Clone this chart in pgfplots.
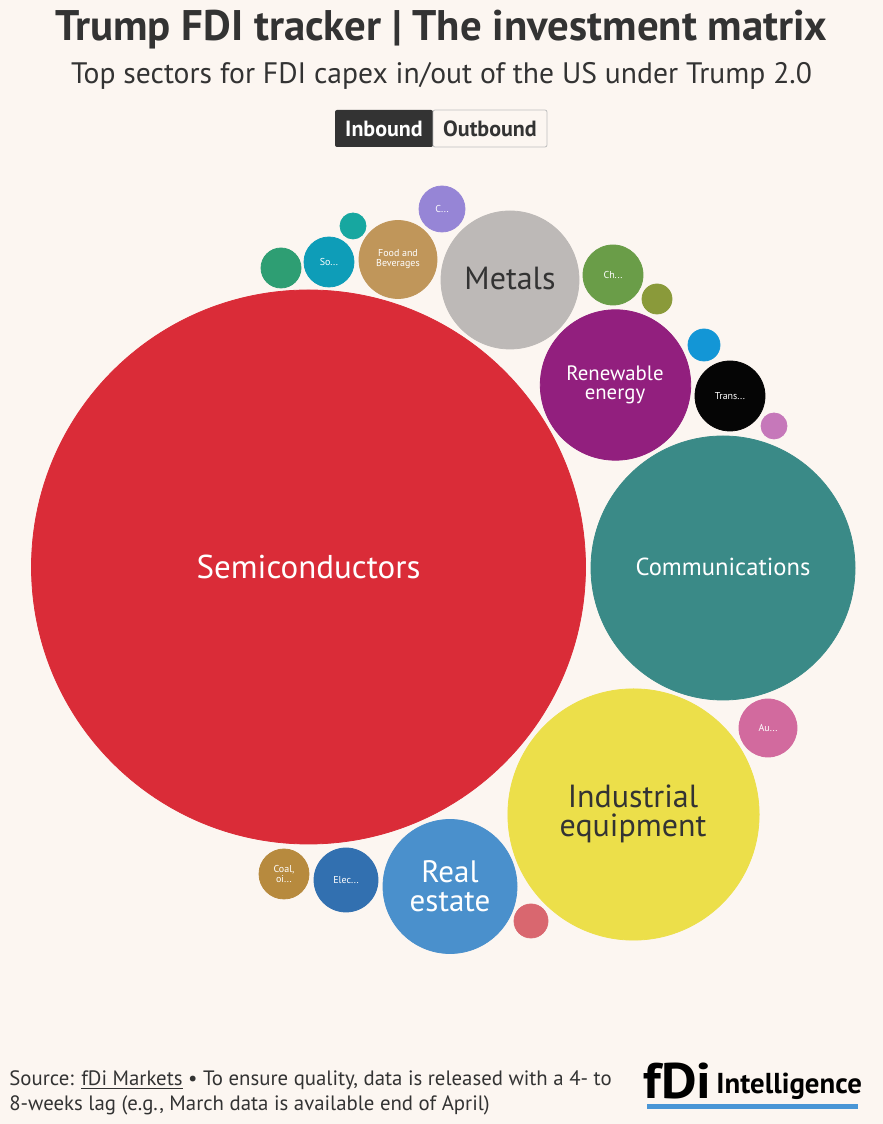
\documentclass[border=0pt]{standalone}
\usepackage{pgfplots}
\pgfplotsset{compat=1.18}
\usepackage{fontspec}
\setmainfont{PT Sans}
\definecolor{bg}{RGB}{252,246,241}
\definecolor{ink}{RGB}{51,51,51}
\definecolor{cSemi}{RGB}{218,44,56}
\definecolor{cComm}{RGB}{58,138,135}
\definecolor{cInd}{RGB}{236,223,74}
\definecolor{cReal}{RGB}{74,144,204}
\definecolor{cMet}{RGB}{189,185,183}
\definecolor{cRen}{RGB}{146,31,126}
\definecolor{cTrans}{RGB}{5,5,5}
\definecolor{cFood}{RGB}{192,150,90}
\definecolor{cSo}{RGB}{14,157,184}
\definecolor{cGrn}{RGB}{46,158,115}
\definecolor{cTeal}{RGB}{23,167,160}
\definecolor{cC}{RGB}{150,133,214}
\definecolor{cCh}{RGB}{106,157,72}
\definecolor{cOl}{RGB}{138,154,58}
\definecolor{cBl}{RGB}{19,150,214}
\definecolor{cPk}{RGB}{198,120,186}
\definecolor{cAu}{RGB}{210,106,158}
\definecolor{cElec}{RGB}{50,112,176}
\definecolor{cCoal}{RGB}{183,138,62}
\definecolor{cRp}{RGB}{217,103,111}
\definecolor{logoblue}{RGB}{74,150,214}
\newcommand{\bub}[4]{\addplot[only marks, mark=*, mark size=#3pt, color=#4, mark options={draw=#4, fill=#4}] coordinates {(#1,#2)};}
\begin{document}
\begin{tikzpicture}
\fill[bg] (0,0) rectangle (441.5pt,562pt);
\begin{axis}[at={(0,0)}, anchor=south west, x=0.5pt, y=0.5pt, xmin=0, xmax=883, ymin=0, ymax=1124, y dir=reverse, hide axis, clip=false, scale only axis, set layers]
% x, y (pixels), radius (pt = px/2), colour
\bub{308.5}{567}{138.5}{cSemi}
\bub{723}{568}{66}{cComm}
\bub{633.5}{814.5}{62.8}{cInd}
\bub{450}{886.5}{33.5}{cReal}
\bub{510}{280}{34.5}{cMet}
\bub{615.5}{385}{37.6}{cRen}
\bub{730}{396}{17.5}{cTrans}
\bub{398}{259.5}{19.5}{cFood}
\bub{329}{262}{12.5}{cSo}
\bub{281}{268}{10}{cGrn}
\bub{353}{226}{6.5}{cTeal}
\bub{442}{209}{11.5}{cC}
\bub{613}{275}{15}{cCh}
\bub{657}{299}{7.5}{cOl}
\bub{704}{345}{8}{cBl}
\bub{774}{426}{6.5}{cPk}
\bub{768}{728}{14.5}{cAu}
\bub{346}{880}{16}{cElec}
\bub{284}{874}{12.5}{cCoal}
\bub{531}{921}{8.5}{cRp}
\begin{pgfonlayer}{axis foreground}
% labels
\node[text=white, font=\fontsize{16.5}{18}\selectfont] at (axis cs:308.5,567) {Semiconductors};
\node[text=white, font=\fontsize{12.3}{14}\selectfont] at (axis cs:723,567) {Communications};
\node[text=ink, align=center, font=\fontsize{16}{14.5}\selectfont] at (axis cs:633,814) {Industrial\\equipment};
\node[text=white, align=center, font=\fontsize{15.5}{14.5}\selectfont] at (axis cs:450,886) {Real\\estate};
\node[text=ink, font=\fontsize{16}{18}\selectfont] at (axis cs:510,279) {Metals};
\node[text=white, align=center, font=\fontsize{10.4}{9.5}\selectfont] at (axis cs:615,385) {Renewable\\energy};
\node[text=white, font=\fontsize{5}{6}\selectfont] at (axis cs:730,396) {Trans...};
\node[text=white, align=center, font=\fontsize{5}{5}\selectfont] at (axis cs:398,259.5) {Food and\\Beverages};
\node[text=white, font=\fontsize{5}{6}\selectfont] at (axis cs:329,262) {So...};
\node[text=white, font=\fontsize{5}{6}\selectfont] at (axis cs:442,209) {C...};
\node[text=white, font=\fontsize{5}{6}\selectfont] at (axis cs:613,275) {Ch...};
\node[text=white, font=\fontsize{5}{6}\selectfont] at (axis cs:768,728) {Au...};
\node[text=white, font=\fontsize{5}{6}\selectfont] at (axis cs:346,880) {Elec...};
\node[text=white, align=center, font=\fontsize{5}{5}\selectfont] at (axis cs:284,874) {Coal,\\oi...};
% titles
\node[text=ink, font=\bfseries\fontsize{21.4}{24}\selectfont] at (axis cs:441.5,30) {Trump FDI tracker | The investment matrix};
\node[text=ink, font=\fontsize{14.8}{17}\selectfont] at (axis cs:441.5,76) {Top sectors for FDI capex in/out of the US under Trump 2.0};
% toggle
\fill[ink, rounded corners=1pt] (axis cs:335,110) rectangle (axis cs:433,147);
\draw[gray!50, fill=bg, rounded corners=1pt] (axis cs:433,110) rectangle (axis cs:547,147);
\node[text=white, font=\bfseries\fontsize{11}{13}\selectfont] at (axis cs:384,128.5) {Inbound};
\node[text=ink, font=\bfseries\fontsize{11}{13}\selectfont] at (axis cs:490,128.5) {Outbound};
% footer
\node[anchor=west, inner sep=0pt, text=ink, align=left, font=\fontsize{10.4}{12.5}\selectfont] at (axis cs:9,1093) {Source: \underline{fDi Markets} \textbullet{} To ensure quality, data is released with a 4- to\\8-weeks lag (e.g., March data is available end of April)};
\node[anchor=west, inner sep=0pt, text=black, font=\bfseries\fontsize{25}{26}\selectfont, xscale=1.1] at (axis cs:643,1081) {fDi};
\node[anchor=west, inner sep=0pt, text=black, font=\bfseries\fontsize{14.4}{16}\selectfont] at (axis cs:716,1086) {Intelligence};
\fill[logoblue] (axis cs:647,1104) rectangle (axis cs:858,1109);
\end{pgfonlayer}
\end{axis}
\end{tikzpicture}
\end{document}
